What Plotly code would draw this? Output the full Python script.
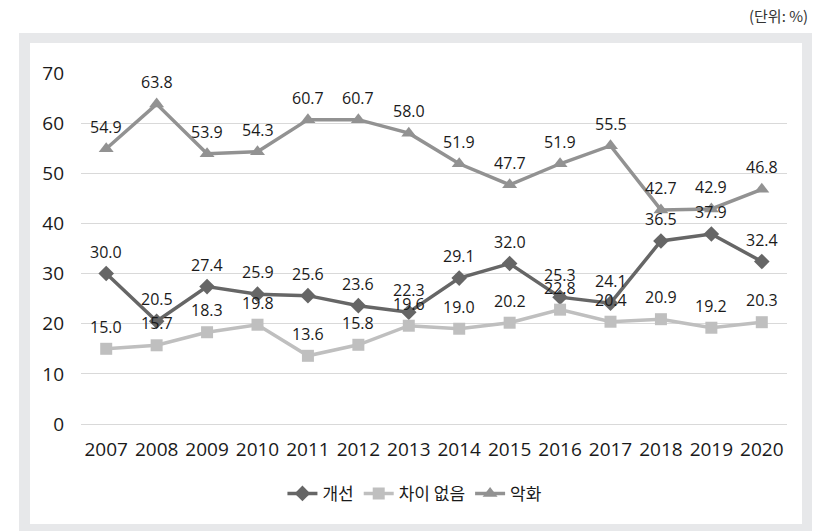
import plotly.graph_objects as go

YEARS = ["2007", "2008", "2009", "2010", "2011", "2012", "2013",
         "2014", "2015", "2016", "2017", "2018", "2019", "2020"]
IMPROVED = [30.0, 20.5, 27.4, 25.9, 25.6, 23.6, 22.3, 29.1, 32.0, 25.3, 24.1, 36.5, 37.9, 32.4]
NO_CHANGE = [15.0, 15.7, 18.3, 19.8, 13.6, 15.8, 19.6, 19.0, 20.2, 22.8, 20.4, 20.9, 19.2, 20.3]
WORSE = [54.9, 63.8, 53.9, 54.3, 60.7, 60.7, 58.0, 51.9, 47.7, 51.9, 55.5, 42.7, 42.9, 46.8]

SERIES = [
    ("개선", IMPROVED, "#666666", "diamond", 12),
    ("차이 없음", NO_CHANGE, "#bfbfbf", "square", 12),
    ("악화", WORSE, "#929292", "triangle-up", 13),
]

NUM_FONT = "Open Sans, Noto Sans CJK KR, sans-serif"
KR_FONT = "Noto Sans CJK KR, sans-serif"

fig = go.Figure()
for name, vals, color, symbol, size in SERIES:
    fig.add_trace(
        go.Scatter(
            x=YEARS,
            y=vals,
            name=name,
            mode="lines+markers",
            line=dict(color=color, width=3.5),
            marker=dict(symbol=symbol, size=size, color=color),
            hoverinfo="x+y+name",
        )
    )

# value labels above each point (x given as category index)
annotations = []
for name, vals, color, symbol, size in SERIES:
    for i, v in enumerate(vals):
        annotations.append(
            dict(x=i, y=v, xref="x", yref="y", text=f"{v:.1f}", showarrow=False, yshift=22,
                 font=dict(family=NUM_FONT, size=16, color="#1a1a1a"))
        )

annotations.append(
    dict(xref="paper", yref="paper", x=1.032, y=1.165, xanchor="right", yanchor="middle",
         text="(단위: %)", showarrow=False,
         font=dict(family=KR_FONT, size=15, color="#333333"))
)

# grey frame around the chart
shapes = [
    dict(type="rect", xref="paper", yref="paper", x0=-0.0878, x1=1.0354, y0=-0.40, y1=1.114,
         fillcolor="#e7e8ea", line=dict(width=0), layer="below"),
    dict(type="rect", xref="paper", yref="paper", x0=-0.0722, x1=1.0212, y0=-0.2849, y1=1.0855,
         fillcolor="#ffffff", line=dict(width=0), layer="below"),
]

fig.update_layout(
    width=826,
    height=523,
    margin=dict(l=73, r=47, t=65, b=107),
    paper_bgcolor="#ffffff",
    plot_bgcolor="rgba(0,0,0,0)",
    showlegend=True,
    legend=dict(
        orientation="h",
        x=0.473,
        xanchor="center",
        y=-0.199,
        yanchor="middle",
        font=dict(family=KR_FONT, size=17, color="#1a1a1a"),
        itemwidth=30,
        bgcolor="rgba(0,0,0,0)",
    ),
    xaxis=dict(
        type="category",
        range=[-0.5, 13.5],
        showgrid=False,
        showline=False,
        ticks="",
        tickfont=dict(family=NUM_FONT, size=19, color="#1a1a1a"),
        ticklabelstandoff=12,
    ),
    yaxis=dict(
        range=[0, 70],
        dtick=10,
        showgrid=True,
        gridcolor="#d9d9d9",
        gridwidth=1,
        zeroline=True,
        zerolinecolor="#d9d9d9",
        zerolinewidth=1,
        showline=False,
        ticks="",
        tickfont=dict(family=NUM_FONT, size=19, color="#1a1a1a"),
        ticklabelstandoff=16,
    ),
    annotations=annotations,
    shapes=shapes,
)

fig.write_html("out.html")
